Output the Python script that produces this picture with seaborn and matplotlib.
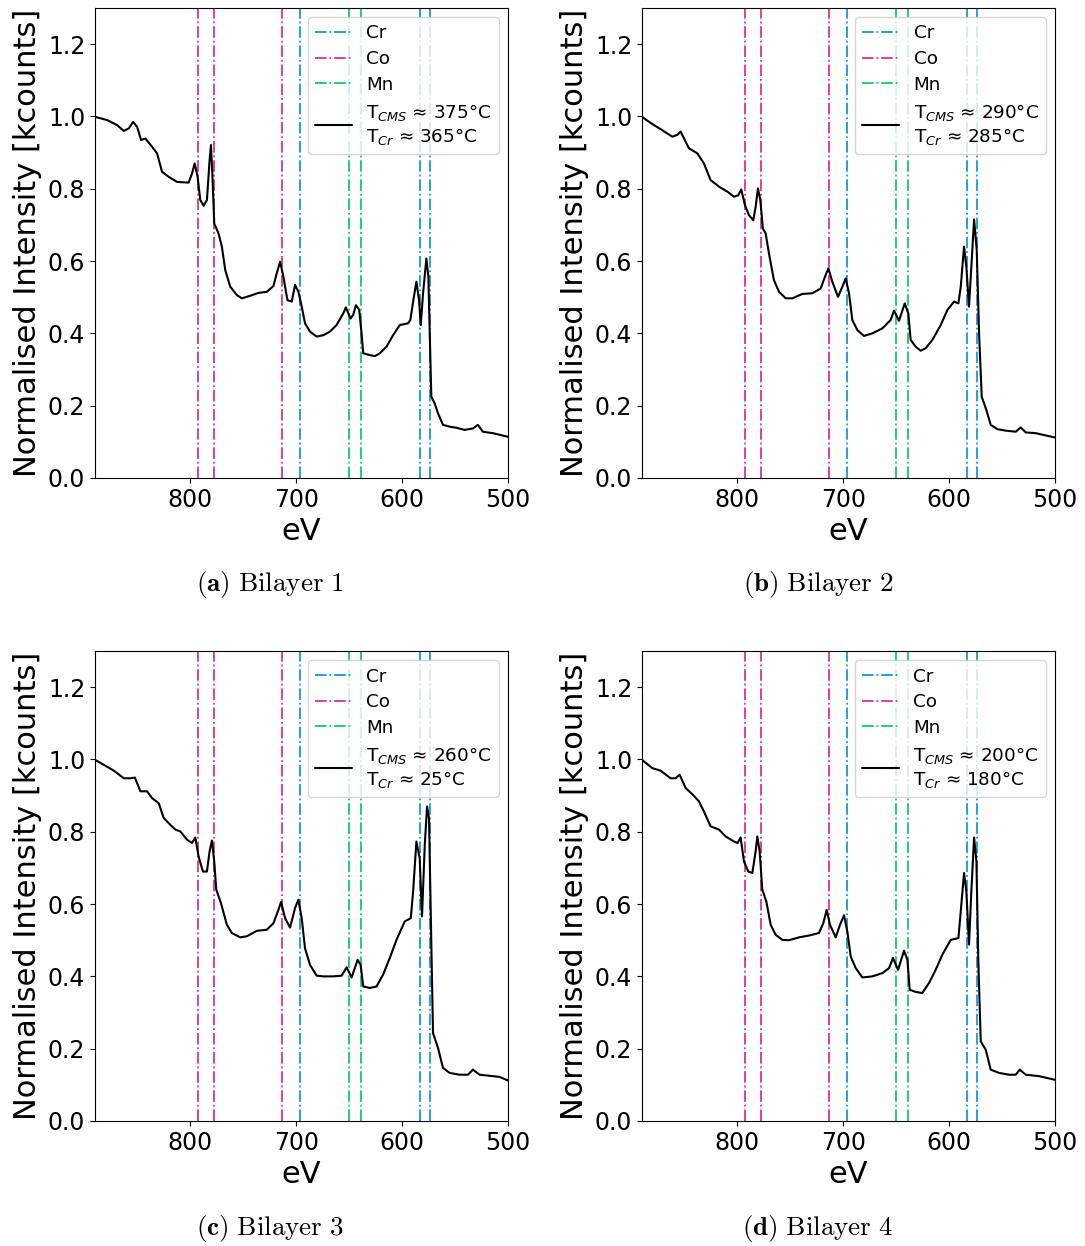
import numpy as np
import pandas as pd
import matplotlib
matplotlib.use("Agg")
import matplotlib.pyplot as plt
import seaborn as sns

# ---------------- data ----------------
ev_a = [890, 878.5, 869.1, 862.8, 858.1, 854.0, 850.2, 846.5, 842.4, 836.1, 831.4, 826.7, 820.4, 812.6,
        801.6, 798.4, 795.9, 793.1, 790.6, 787.4, 784.3, 781.8, 780.5, 779.2, 777.4, 773.3, 770.2, 767.0,
        762.3, 756.0, 751.3, 743.5, 735.6, 727.8, 721.5, 718.4, 715.2, 712.1, 708.3, 704.2, 701.1, 697.9,
        694.8, 691.7, 687.0, 680.7, 674.4, 668.1, 661.9, 655.6, 653.1, 648.7, 646.2, 643.6, 640.5, 638.3,
        636.7, 630.5, 625.7, 621.0, 614.8, 608.5, 602.2, 594.3, 592.2, 589.6, 586.5, 584.0, 582.4, 580.2,
        577.1, 575.2, 573.9, 572.4, 569.2, 566.1, 561.4, 555.1, 548.8, 541.0, 533.1, 528.4, 523.7, 514.3,
        500.0]
int_a = [0.999, 0.990, 0.976, 0.960, 0.967, 0.985, 0.971, 0.935, 0.939, 0.916, 0.898, 0.847, 0.833, 0.819,
         0.817, 0.842, 0.870, 0.833, 0.769, 0.753, 0.769, 0.879, 0.921, 0.842, 0.704, 0.676, 0.640, 0.575,
         0.529, 0.506, 0.497, 0.504, 0.512, 0.515, 0.531, 0.566, 0.598, 0.557, 0.492, 0.488, 0.534, 0.515,
         0.474, 0.428, 0.405, 0.391, 0.395, 0.405, 0.423, 0.455, 0.472, 0.441, 0.451, 0.478, 0.465, 0.400,
         0.345, 0.340, 0.337, 0.345, 0.363, 0.395, 0.423, 0.428, 0.437, 0.488, 0.543, 0.492, 0.423, 0.511,
         0.607, 0.557, 0.400, 0.225, 0.206, 0.179, 0.147, 0.142, 0.139, 0.133, 0.137, 0.147, 0.128, 0.124,
         0.114]

ev_b = [890, 880.3, 870.8, 861.4, 856.7, 853.5, 848.8, 845.7, 837.8, 831.5, 825.2, 817.3, 809.4, 803.1,
        799.1, 796.3, 792.8, 789.0, 784.9, 782.7, 780.5, 778.3, 775.8, 773.2, 770.1, 765.4, 760.6, 754.3,
        748.0, 738.6, 729.2, 721.3, 717.2, 714.0, 710.3, 704.9, 700.8, 697.7, 694.5, 691.4, 686.6, 680.4,
        672.5, 663.0, 655.2, 652.0, 647.3, 641.9, 638.5, 636.3, 631.5, 626.8, 622.1, 615.8, 607.9, 601.6,
        595.3, 591.2, 589.0, 585.9, 583.7, 581.2, 579.0, 576.4, 573.9, 571.7, 569.2, 564.8, 560.7, 554.4,
        546.5, 537.1, 532.4, 527.6, 518.2, 500.0]
int_b = [0.999, 0.979, 0.962, 0.944, 0.949, 0.958, 0.930, 0.912, 0.898, 0.870, 0.824, 0.806, 0.792, 0.778,
         0.782, 0.798, 0.755, 0.727, 0.713, 0.750, 0.801, 0.769, 0.690, 0.676, 0.621, 0.547, 0.515, 0.497,
         0.497, 0.509, 0.511, 0.524, 0.557, 0.580, 0.543, 0.501, 0.529, 0.552, 0.511, 0.437, 0.409, 0.393,
         0.400, 0.414, 0.437, 0.463, 0.435, 0.483, 0.455, 0.382, 0.363, 0.352, 0.359, 0.382, 0.423, 0.465,
         0.488, 0.483, 0.529, 0.640, 0.584, 0.474, 0.584, 0.715, 0.630, 0.400, 0.225, 0.188, 0.147, 0.135,
         0.131, 0.128, 0.140, 0.126, 0.124, 0.112]

ev_c = [890, 881.6, 872.2, 862.8, 856.5, 852.4, 847.1, 840.8, 836.1, 829.8, 825.1, 818.8, 814.1, 809.4,
        803.1, 798.4, 795.3, 792.2, 788.1, 784.3, 781.8, 779.6, 777.4, 775.5, 771.1, 765.5, 760.8, 752.9,
        746.6, 737.2, 727.8, 721.5, 716.8, 714.3, 710.5, 705.8, 701.1, 698.0, 694.8, 691.7, 687.0, 680.7,
        674.4, 665.0, 657.1, 652.4, 647.7, 642.0, 639.2, 636.7, 630.5, 624.2, 617.9, 611.6, 605.3, 597.5,
        591.8, 589.6, 586.5, 583.4, 581.2, 578.6, 576.4, 574.6, 572.4, 570.8, 566.1, 561.4, 555.1, 545.7,
        537.8, 533.1, 526.8, 517.4, 508.0, 500.0]
int_c = [0.999, 0.985, 0.969, 0.948, 0.948, 0.950, 0.912, 0.912, 0.893, 0.879, 0.838, 0.819, 0.806, 0.801,
         0.778, 0.769, 0.784, 0.732, 0.690, 0.690, 0.746, 0.776, 0.718, 0.640, 0.603, 0.543, 0.520, 0.508,
         0.511, 0.526, 0.529, 0.547, 0.584, 0.606, 0.561, 0.535, 0.589, 0.612, 0.561, 0.478, 0.432, 0.402,
         0.400, 0.400, 0.402, 0.425, 0.397, 0.446, 0.432, 0.372, 0.368, 0.372, 0.405, 0.451, 0.501, 0.552,
         0.561, 0.635, 0.773, 0.727, 0.566, 0.764, 0.870, 0.838, 0.488, 0.243, 0.202, 0.147, 0.133, 0.128,
         0.128, 0.142, 0.128, 0.125, 0.122, 0.112]

ev_d = [890, 880.3, 872.4, 863.0, 858.2, 854.5, 848.8, 842.5, 836.2, 831.5, 825.2, 817.3, 811.0, 803.1,
        799.7, 796.9, 793.7, 789.6, 785.8, 782.7, 781.1, 778.9, 776.4, 772.6, 768.5, 763.8, 757.5, 751.2,
        741.7, 732.3, 722.9, 718.8, 715.6, 712.5, 707.1, 703.0, 699.2, 696.1, 692.9, 688.2, 681.9, 672.5,
        663.0, 656.7, 653.0, 648.2, 642.6, 639.4, 637.2, 631.5, 625.3, 618.9, 612.7, 606.4, 598.5, 591.2,
        589.0, 585.9, 583.7, 581.2, 579.0, 576.4, 574.2, 572.4, 570.1, 565.4, 560.7, 552.8, 543.4, 537.1,
        533.3, 527.6, 515.0, 500.0]
int_d = [0.999, 0.976, 0.969, 0.948, 0.948, 0.958, 0.921, 0.904, 0.884, 0.856, 0.815, 0.806, 0.787, 0.773,
         0.769, 0.784, 0.718, 0.690, 0.686, 0.746, 0.787, 0.746, 0.640, 0.607, 0.543, 0.515, 0.501, 0.500,
         0.508, 0.513, 0.520, 0.547, 0.584, 0.543, 0.508, 0.543, 0.569, 0.524, 0.455, 0.423, 0.397, 0.400,
         0.409, 0.423, 0.451, 0.418, 0.471, 0.446, 0.363, 0.357, 0.354, 0.382, 0.418, 0.460, 0.501, 0.506,
         0.580, 0.686, 0.635, 0.488, 0.635, 0.784, 0.718, 0.441, 0.220, 0.197, 0.142, 0.133, 0.128, 0.128,
         0.142, 0.128, 0.124, 0.114]

cr_lines = [696, 583, 574]
co_lines = [793, 778, 713]
mn_lines = [650, 639]

temps_cms = ["375", "290", "260", "200"]
temps_cr = ["365", "285", "25", "180"]
captions = ["a", "b", "c", "d"]
bilayers = ["Bilayer 1", "Bilayer 2", "Bilayer 3", "Bilayer 4"]

x_ticks = [800, 700, 600, 500]
y_ticks = [0.0, 0.2, 0.4, 0.6, 0.8, 1.0, 1.2]

# ---------------- style ----------------
sns.set_style("ticks")
plt.rcParams["font.family"] = ["DejaVu Sans"]
plt.rcParams["mathtext.fontset"] = "dejavusans"
plt.rcParams["text.color"] = "black"
plt.rcParams["axes.labelcolor"] = "black"
plt.rcParams["xtick.color"] = "black"
plt.rcParams["ytick.color"] = "black"

CR_COLOR = "#1199dd"
CO_COLOR = "#dd3388"
MN_COLOR = "#11cc66"

fig = plt.figure(figsize=(10.85, 12.46), dpi=100)
W, H = 1085, 1246
ax_w = (508 - 95) / W
ax_h = (478 - 8) / H
lefts = [95 / W, 642 / W, 95 / W, 642 / W]
bottoms = [1 - 478 / H, 1 - 478 / H, 1 - 1121 / H, 1 - 1121 / H]

series = [(ev_a, int_a), (ev_b, int_b), (ev_c, int_c), (ev_d, int_d)]

for i, (ev, inten) in enumerate(series):
    ax = fig.add_axes([lefts[i], bottoms[i], ax_w, ax_h])
    handles = []
    for j, x in enumerate(cr_lines):
        h = ax.axvline(x, color=CR_COLOR, ls="-.", lw=1.3)
        if j == 0:
            handles.append(h)
    for j, x in enumerate(co_lines):
        h = ax.axvline(x, color=CO_COLOR, ls="-.", lw=1.3)
        if j == 0:
            handles.append(h)
    for j, x in enumerate(mn_lines):
        h = ax.axvline(x, color=MN_COLOR, ls="-.", lw=1.3)
        if j == 0:
            handles.append(h)
    df = pd.DataFrame({"eV": ev, "I": inten})
    sns.lineplot(data=df, x="eV", y="I", ax=ax, color="black", lw=1.5,
                 estimator=None, sort=False)
    line = ax.get_lines()[-1]
    handles.append(line)
    labels = ["Cr", "Co", "Mn",
              "T$_{CMS}$ ≈ " + temps_cms[i] + "°C\nT$_{Cr}$ ≈ " + temps_cr[i] + "°C"]
    ax.legend(handles, labels, loc="upper right", fontsize=13.2, framealpha=0.8,
              labelspacing=0.42)
    ax.set_xlim(890, 500)
    ax.set_ylim(0, 1.3)
    ax.set_xticks(x_ticks)
    ax.set_yticks(y_ticks)
    ax.tick_params(labelsize=17, colors="black")
    ax.set_xlabel("eV", fontsize=22, color="black")
    ax.set_ylabel("Normalised Intensity [kcounts]", fontsize=22, color="black")
    for s in ax.spines.values():
        s.set_visible(True)
        s.set_linewidth(0.8)
        s.set_color("black")

cap_x = [270 / W, 818 / W, 270 / W, 818 / W]
cap_y = [1 - 585 / H, 1 - 585 / H, 1 - 1228 / H, 1 - 1228 / H]
for i in range(4):
    name = bilayers[i].replace(" ", r"\ ")
    fig.text(cap_x[i], cap_y[i],
             r"$\mathbf{(" + captions[i] + r")}\ \mathrm{" + name + "}$",
             ha="center", va="center", fontsize=19.5, math_fontfamily="cm",
             color="black")

fig.savefig("out.png", dpi=100)
